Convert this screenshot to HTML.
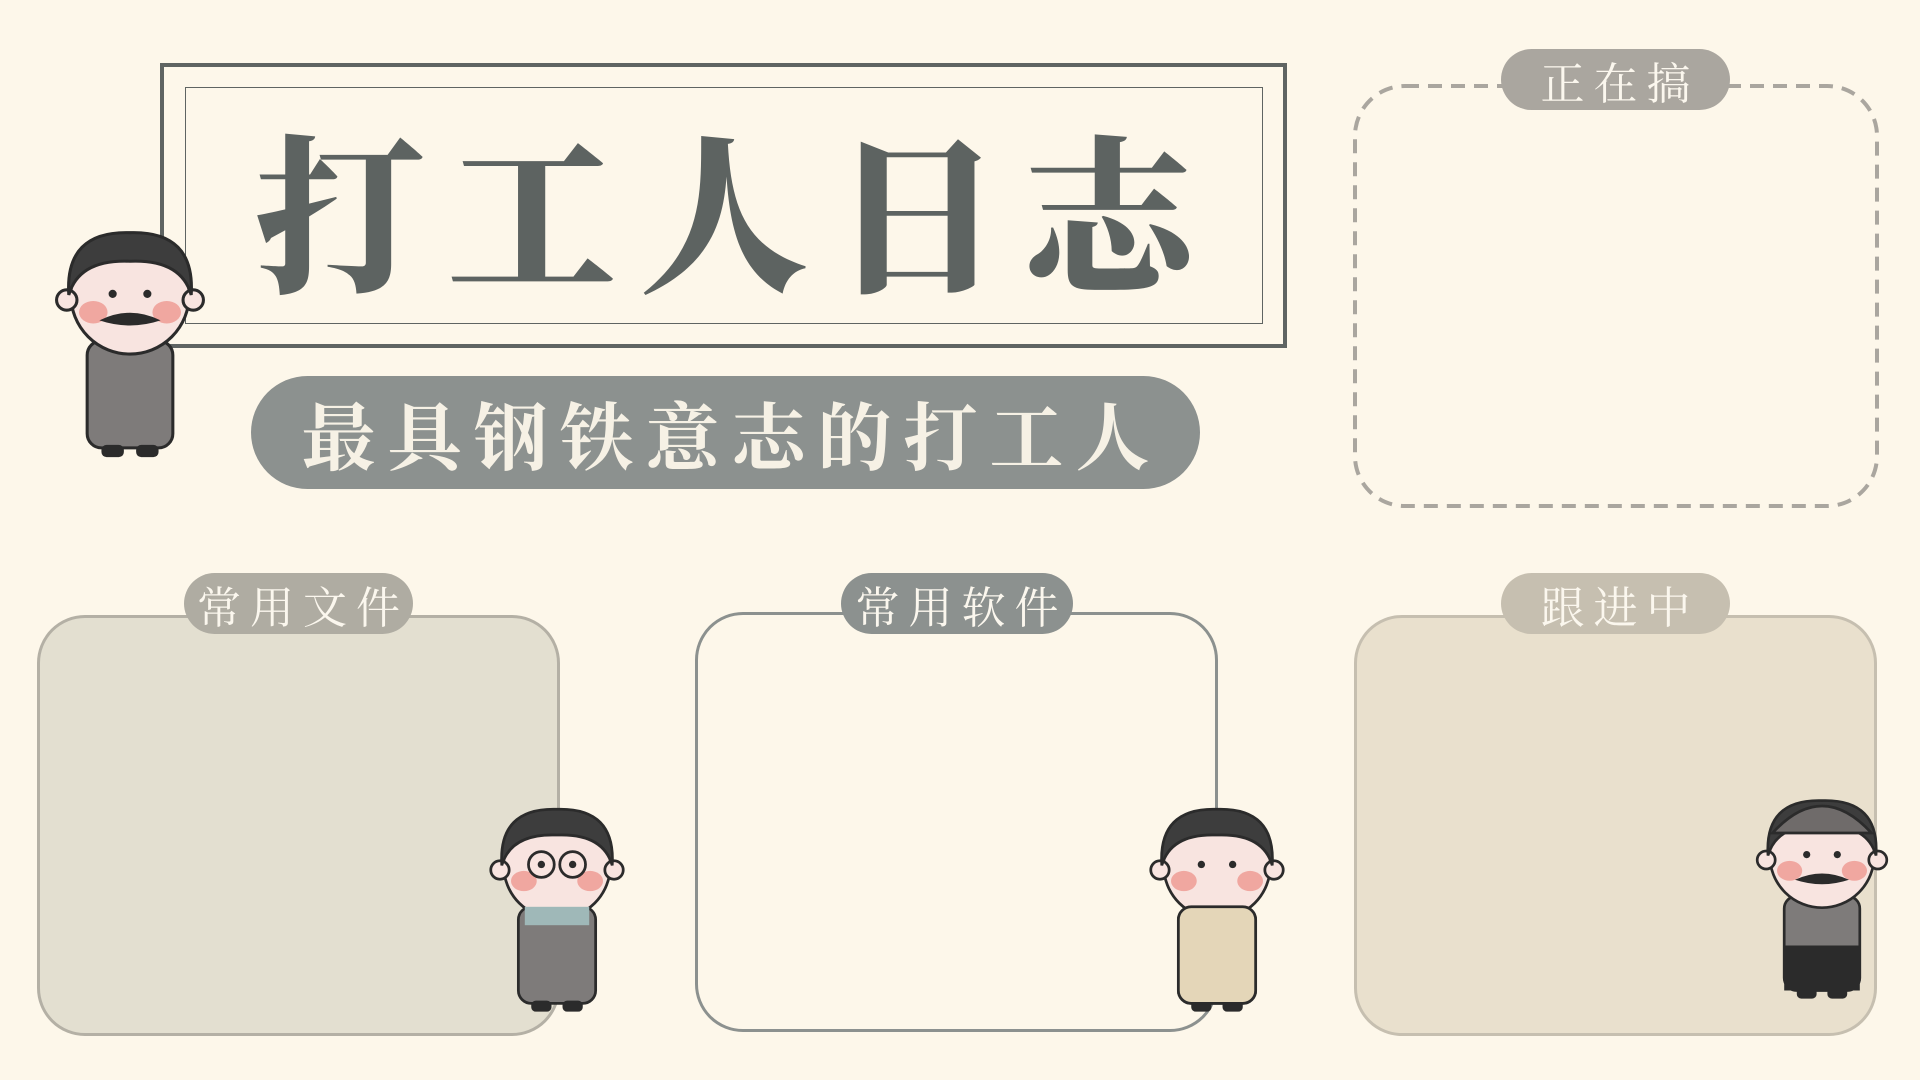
<!DOCTYPE html>
<html><head><meta charset="utf-8">
<style>
*{margin:0;padding:0;box-sizing:border-box}
body{width:1920px;height:1080px;background:#fdf7ea;position:relative;overflow:hidden;font-family:"Liberation Serif","Noto Serif CJK SC",serif}
.abs{position:absolute}
.tag{position:absolute;border-radius:40px;color:#fbf7ee;font-family:"Liberation Serif","Noto Serif CJK SC",serif;font-size:44px;display:flex;align-items:center;justify-content:center;letter-spacing:9px;padding-left:9px;white-space:nowrap}
.box{position:absolute;border-radius:48px;border:3px solid}
</style></head><body>
<div class="abs" style="left:160px;top:63px;width:1127px;height:285px;border:4px solid #5f6462"></div>
<div class="abs" style="left:185px;top:87px;width:1078px;height:237px;border:1.5px solid #5f6462"></div>
<div class="abs" style="left:185px;top:87px;width:1078px;height:237px;display:flex;align-items:center;justify-content:center;font-family:'Noto Serif CJK SC',serif;font-weight:900;font-size:170px;color:#5d6361;letter-spacing:22px;padding-left:22px">打工人日志</div>
<div class="abs" style="left:251px;top:376px;width:949px;height:113px;border-radius:57px;background:#8c918f;display:flex;align-items:center;justify-content:center;font-family:'Noto Serif CJK SC',serif;font-weight:700;font-size:74px;color:#f6f1e5;letter-spacing:12px;padding-left:12px;white-space:nowrap">最具钢铁意志的打工人</div>

<svg class="abs" style="left:1352px;top:83px" width="528" height="426"><rect x="3" y="3" width="522" height="420" rx="50" fill="none" stroke="#aaa69f" stroke-width="4" stroke-dasharray="14 9"/></svg>
<div class="tag" style="left:1501px;top:49px;width:229px;height:61px;background:#aaa69f">正在搞</div>

<div class="box" style="left:37px;top:615px;width:523px;height:421px;background:#e3dfd0;border-color:#b4b0a5"></div>
<div class="tag" style="left:184px;top:573px;width:229px;height:61px;background:#afaca2">常用文件</div>

<div class="box" style="left:695px;top:612px;width:523px;height:420px;background:#fdf7ea;border-color:#8c918f"></div>
<div class="tag" style="left:841px;top:573px;width:232px;height:61px;background:#8c918f">常用软件</div>

<div class="box" style="left:1354px;top:615px;width:523px;height:421px;background:#e9e0cd;border-color:#c6bfb0"></div>
<div class="tag" style="left:1501px;top:573px;width:229px;height:61px;background:#c6bfb0">跟进中</div>

<svg class="abs" style="left:0;top:0" width="1920" height="1080">
<defs>
<g id="fig">
  <rect x="-42" y="40" width="84" height="105" rx="14" fill="#7e7b7a" stroke="#2b2b2b" stroke-width="3"/>
  <rect x="-28" y="142" width="22" height="12" rx="5" fill="#2b2b2b"/>
  <rect x="6" y="142" width="22" height="12" rx="5" fill="#2b2b2b"/>
  <ellipse cx="0" cy="-5" rx="58" ry="58" fill="#f8e4e0" stroke="#2b2b2b" stroke-width="3"/>
  <circle cx="-62" cy="0" r="10" fill="#f8e4e0" stroke="#2b2b2b" stroke-width="3"/>
  <circle cx="62" cy="0" r="10" fill="#f8e4e0" stroke="#2b2b2b" stroke-width="3"/>
  <ellipse cx="-36" cy="12" rx="14" ry="11" fill="#f0a7a0"/>
  <ellipse cx="36" cy="12" rx="14" ry="11" fill="#f0a7a0"/>
  <path d="M-60,-5 Q-64,-68 0,-66 Q64,-68 60,-5 Q50,-40 0,-38 Q-50,-40 -60,-5Z" fill="#3d3d3d" stroke="#2b2b2b" stroke-width="3"/>
  <circle cx="-17" cy="-6" r="4" fill="#2b2b2b"/><circle cx="17" cy="-6" r="4" fill="#2b2b2b"/>
</g>
</defs>
<g transform="translate(130,300) scale(1.02)"><use href="#fig"/><path d="M-30,20 Q0,5 30,20 Q0,30 -30,20Z" fill="#2b2b2b"/></g>
<g transform="translate(557,870) scale(0.92)"><use href="#fig"/><circle cx="-17" cy="-6" r="14" fill="none" stroke="#2b2b2b" stroke-width="3"/><circle cx="17" cy="-6" r="14" fill="none" stroke="#2b2b2b" stroke-width="3"/><rect x="-35" y="40" width="70" height="20" fill="#9fb8b8"/></g>
<g transform="translate(1217,870) scale(0.92)"><use href="#fig"/><rect x="-42" y="40" width="84" height="105" rx="14" fill="#e4d6b8" stroke="#2b2b2b" stroke-width="3"/></g>
<g transform="translate(1822,860) scale(0.9)"><use href="#fig"/><path d="M-55,-30 Q0,-90 55,-30Z" fill="#6f6b6a" stroke="#2b2b2b" stroke-width="3"/><path d="M-30,22 Q0,8 30,22 Q0,32 -30,22Z" fill="#2b2b2b"/><rect x="-42" y="95" width="84" height="50" fill="#2b2b2b"/></g>
</svg>
</body></html>
